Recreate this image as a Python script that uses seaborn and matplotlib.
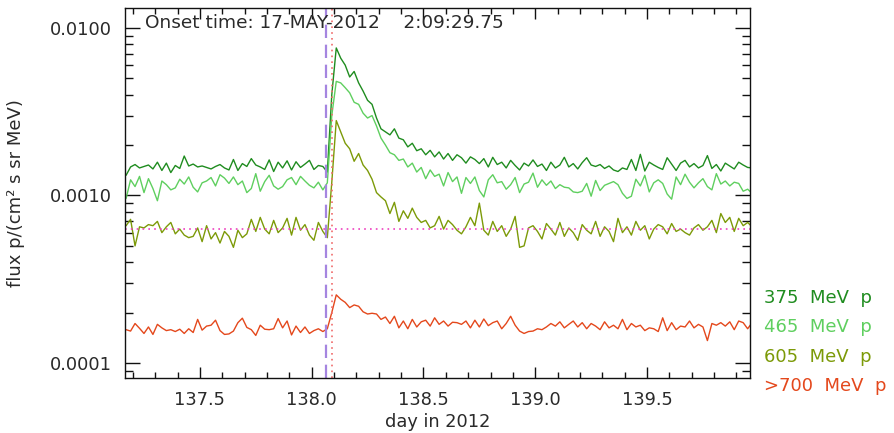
import numpy as np
import pandas as pd
import matplotlib
matplotlib.use("Agg")
import matplotlib.pyplot as plt
import matplotlib.ticker as mticker
import seaborn as sns

# time cadence of the samples (day of year 2012)
t_start = 137.17
t_step = 0.02

# proton flux, in units of 1e-4 p/(cm^2 s sr MeV)
flux_375 = [
    13.2, 14.8, 15.3, 14.6, 14.9, 15.2, 14.4, 15.8, 14.1, 15.6,
    13.7, 15.1, 14.5, 17.2, 15.0, 15.4, 14.8, 15.0, 14.7, 14.4,
    14.9, 15.3, 14.6, 14.2, 16.4, 14.1, 15.5, 14.9, 16.6, 15.2,
    14.8, 14.3, 16.3, 13.9, 15.8, 14.6, 16.1, 14.2, 15.9, 14.7,
    15.4, 16.2, 14.3, 15.1, 14.9, 13.8, 40.0, 76.0, 66.0, 60.0,
    51.0, 55.0, 47.0, 42.0, 37.0, 35.0, 29.0, 25.0, 24.0, 23.0,
    25.0, 22.0, 21.5, 19.5, 20.5, 18.5, 19.0, 17.5, 18.6, 17.0,
    18.2, 16.5, 17.8, 16.2, 17.5, 16.8, 15.6, 17.0, 16.4, 15.5,
    16.6, 14.8, 16.9, 15.3, 15.8, 14.6, 16.2, 15.1, 14.2, 15.6,
    15.0, 16.3, 14.9, 15.4, 14.1, 15.8, 14.6, 15.2, 16.9, 14.8,
    15.5, 14.4, 15.7, 16.8, 15.2, 14.9, 15.3, 14.5, 15.0, 14.2,
    13.9, 14.6, 14.3, 16.4, 14.1, 17.6, 14.0, 15.8, 15.2, 14.7,
    14.3, 16.8, 15.4, 14.1, 15.6, 16.2, 14.8, 15.5, 14.6, 15.1,
    17.3, 14.5, 15.3, 14.0, 15.6, 15.0, 14.4, 15.8, 15.2, 14.7,
    14.6,
]
flux_465 = [
    9.6, 12.4, 11.3, 13.0, 10.4, 12.6, 11.0, 9.3, 12.2, 11.6,
    10.8, 11.1, 12.5, 11.7, 12.9, 11.2, 10.5, 11.9, 12.2, 12.8,
    11.4, 13.3, 12.7, 11.8, 12.9, 11.6, 12.2, 10.4, 11.0, 13.5,
    10.6, 12.1, 13.2, 11.4, 10.9, 11.3, 12.4, 12.8, 11.6, 13.0,
    12.2, 11.5, 11.1, 12.0, 10.8, 11.9, 30.0, 48.0, 47.0, 44.0,
    41.0, 36.0, 35.0, 31.0, 29.0, 30.0, 26.0, 22.0, 20.0, 18.0,
    17.5, 16.2, 16.5, 14.8, 15.6, 13.8, 14.7, 12.6, 14.2, 13.0,
    13.4, 11.4, 13.7, 12.1, 12.9, 10.3, 12.8, 11.8, 12.9, 10.7,
    9.8, 12.4, 13.3, 11.9, 12.1, 10.9, 11.6, 12.8, 10.4, 11.7,
    12.0, 13.6, 11.2, 12.4, 11.5, 12.2, 11.0, 11.6, 11.2, 11.1,
    10.5, 10.4, 10.6, 11.8, 9.9, 12.3, 10.7, 11.5, 11.8, 12.1,
    11.6, 10.3, 9.6, 9.9, 12.5, 11.4, 13.2, 10.5, 11.9, 12.4,
    11.8, 10.2, 9.5, 12.9, 11.6, 13.4, 12.0, 11.1, 11.9, 12.6,
    11.3, 10.8, 13.5, 11.7, 12.2, 11.4, 12.0, 11.8, 10.6, 10.9,
    10.3,
]
flux_605 = [
    6.6, 7.2, 5.0, 6.5, 6.4, 6.7, 6.6, 7.0, 6.0, 6.5,
    6.9, 5.9, 6.3, 5.8, 5.6, 5.7, 6.4, 5.3, 6.6, 5.5,
    6.0, 5.2, 6.1, 5.7, 4.9, 6.2, 5.6, 5.9, 7.2, 6.1,
    7.4, 6.3, 5.9, 7.1, 6.0, 6.4, 7.3, 5.8, 7.4, 6.2,
    6.7, 5.8, 5.4, 6.9, 6.1, 5.6, 12.0, 28.0, 24.0, 20.5,
    19.0, 16.0, 17.8, 15.2, 14.1, 12.5, 10.4, 9.8, 9.3, 7.8,
    9.1, 7.0, 8.1, 7.3, 8.4, 7.4, 6.9, 7.1, 6.4, 6.6,
    7.5, 6.3, 7.1, 6.7, 6.2, 5.9, 6.5, 7.4, 6.6, 9.0,
    6.2, 5.8, 7.0, 6.1, 6.6, 5.7, 6.3, 7.5, 4.9, 5.0,
    6.4, 6.6, 6.1, 5.5, 6.8, 6.3, 5.8, 6.9, 5.7, 6.4,
    6.0, 5.4, 6.7, 6.2, 5.9, 7.0, 5.7, 6.5, 6.1, 5.3,
    7.3, 6.0, 6.5, 5.8, 7.0, 6.2, 6.6, 5.5, 6.3, 6.7,
    6.5, 5.9, 6.8, 6.1, 6.3, 6.0, 5.8, 6.4, 6.7, 6.2,
    6.5, 7.1, 6.0, 7.8, 6.9, 7.4, 6.1, 7.3, 6.6, 6.9,
    6.5,
]
flux_700 = [
    1.58, 1.55, 1.72, 1.61, 1.50, 1.64, 1.48, 1.70, 1.62, 1.56,
    1.58, 1.54, 1.59, 1.50, 1.60, 1.52, 1.82, 1.57, 1.66, 1.68,
    1.80, 1.56, 1.48, 1.49, 1.55, 1.74, 1.85, 1.63, 1.58, 1.46,
    1.68, 1.59, 1.58, 1.60, 1.84, 1.62, 1.78, 1.47, 1.66, 1.52,
    1.64, 1.50, 1.56, 1.60, 1.54, 1.60, 2.00, 2.55, 2.40, 2.30,
    2.14, 2.22, 2.18, 2.02, 1.96, 1.98, 1.96, 1.82, 1.88, 1.72,
    1.90, 1.62, 1.78, 1.60, 1.82, 1.64, 1.76, 1.80, 1.66, 1.86,
    1.70, 1.78, 1.66, 1.75, 1.74, 1.70, 1.78, 1.62, 1.80, 1.64,
    1.83, 1.67, 1.74, 1.78, 1.60, 1.72, 1.90, 1.68, 1.55, 1.50,
    1.54, 1.55, 1.60, 1.58, 1.64, 1.72, 1.66, 1.76, 1.62, 1.70,
    1.78, 1.64, 1.74, 1.60, 1.72, 1.66, 1.58, 1.76, 1.62, 1.68,
    1.60, 1.82, 1.58, 1.72, 1.64, 1.68, 1.56, 1.62, 1.60, 1.54,
    1.86, 1.56, 1.74, 1.58, 1.66, 1.64, 1.78, 1.62, 1.70, 1.64,
    1.36, 1.72, 1.68, 1.74, 1.66, 1.76, 1.58, 1.78, 1.74, 1.60,
    1.74,
]

labels = ["375 MeV p", "465 MeV p", "605 MeV p", ">700 MeV p"]
colors = ["#1f8c1f", "#5fcf5f", "#7c9a08", "#e4481c"]

onset_day = 138.0625
release_day = 138.093
background = 0.00063

n = len(flux_375)
day = t_start + t_step * np.arange(n)
df = pd.DataFrame({
    "day": np.tile(day, 4),
    "flux": np.concatenate([flux_375, flux_465, flux_605, flux_700]) * 1e-4,
    "channel": np.repeat(labels, n),
})

sns.set_style("ticks")
plt.rcParams["font.family"] = ["DejaVu Sans"]
txt = "#2a2a2a"
fs = 12.8

fig = plt.figure(figsize=(8.94, 4.33), dpi=100)
ax = fig.add_axes([0.1398, 0.127, 0.699, 0.8545])

sns.lineplot(data=df, x="day", y="flux", hue="channel", palette=colors,
             linewidth=1.0, legend=False, ax=ax)

ax.set_yscale("log")
ax.set_xlim(137.165, 139.96)
ax.set_ylim(8.13e-5, 1.316e-2)

ax.axvline(onset_day, color="#a585e0", linestyle=(0, (6, 3)), linewidth=1.6)
ax.axvline(release_day, color="#f06a6a", linestyle=(0, (1, 2.5)), linewidth=1.2)
ax.axhline(background, color="#ee3fbf", linestyle=(0, (1, 2.5)), linewidth=1.2)

ax.set_yticks([0.0001, 0.001, 0.01])
ax.yaxis.set_major_formatter(mticker.FuncFormatter(lambda v, p: f"{v:.4f}"))
ax.yaxis.set_minor_locator(mticker.LogLocator(base=10, subs=np.arange(2, 10)))
ax.yaxis.set_minor_formatter(mticker.NullFormatter())
ax.set_xticks([137.5, 138.0, 138.5, 139.0, 139.5])
ax.xaxis.set_major_formatter(mticker.FormatStrFormatter("%.1f"))
ax.xaxis.set_minor_locator(mticker.MultipleLocator(0.1))

ax.tick_params(which="both", direction="in", top=True, right=True,
               colors="#111111", labelcolor=txt, labelsize=fs, width=1)
ax.tick_params(which="major", axis="y", length=11, pad=9.5)
ax.tick_params(which="minor", axis="y", length=6)
ax.tick_params(which="major", axis="x", length=8, pad=9.5)
ax.tick_params(which="minor", axis="x", length=4)
for s in ax.spines.values():
    s.set_linewidth(1.0)
    s.set_color("#111111")

ax.set_xlabel("day in 2012", fontsize=fs, color=txt, labelpad=2.5)
ax.set_ylabel("flux p/(cm² s sr MeV)", fontsize=13, color=txt, labelpad=18)

ax.text(0.032, 0.985, "Onset time: 17-MAY-2012    2:09:29.75", transform=ax.transAxes,
        ha="left", va="top", fontsize=13.3, color=txt)

for i, (lab, c) in enumerate(zip(labels, colors)):
    fig.text(0.855, 1 - (298 + 29.3 * i) / 433, lab.replace(" ", "  "), color=c,
             fontsize=13, ha="left", va="center")

fig.savefig("out.png", dpi=100)
